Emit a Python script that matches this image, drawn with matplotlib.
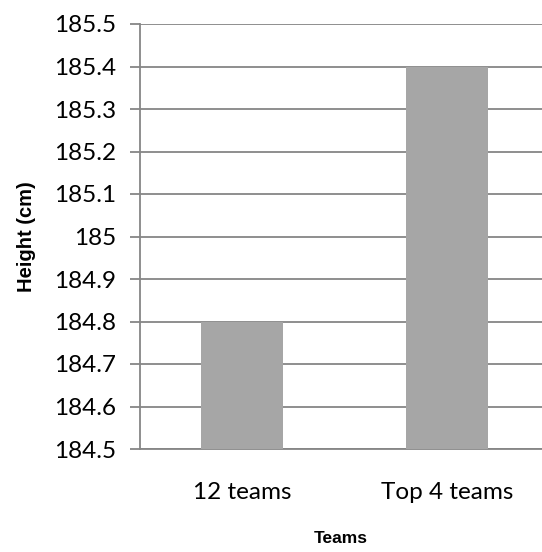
import matplotlib.pyplot as plt
from matplotlib.ticker import FuncFormatter, MultipleLocator

categories = ['12 teams', 'Top 4 teams']
heights = [184.8, 185.4]

plt.rcParams['font.family'] = ['Lato', 'DejaVu Sans']

fig = plt.figure(figsize=(5.42, 5.52), dpi=100)
ax = fig.add_axes([140/542, 1 - 449/552, 402/542, 425/552])

grid_col = '#868686'
ax.bar(range(len(categories)), heights, width=0.4, color='#a6a6a6', zorder=3)

ax.set_ylim(184.5, 185.5)
ax.set_xlim(-0.4976, 1.463)
ax.yaxis.set_major_locator(MultipleLocator(0.1))
ax.yaxis.set_major_formatter(FuncFormatter(lambda v, p: f'{v:.1f}'.rstrip('0').rstrip('.')))
ax.set_xticks(range(len(categories)))
ax.set_xticklabels(categories)
ax.grid(axis='y', color=grid_col, linewidth=1.3, zorder=0)

for s in ['top', 'right']:
    ax.spines[s].set_visible(False)
for s in ['left', 'bottom']:
    ax.spines[s].set_color(grid_col)
    ax.spines[s].set_linewidth(1.3)

ax.tick_params(axis='y', length=7, width=1.3, color=grid_col, labelsize=17.5, pad=10)
ax.tick_params(axis='x', length=0, labelsize=17.5, pad=24)

ax.set_xlabel('Teams', fontsize=12.5, fontweight='bold', family='Liberation Sans', labelpad=20)
ax.set_ylabel('Height (cm)', fontsize=14.5, fontweight='bold', family='Liberation Sans', labelpad=13)

fig.savefig('out.png', dpi=100)
